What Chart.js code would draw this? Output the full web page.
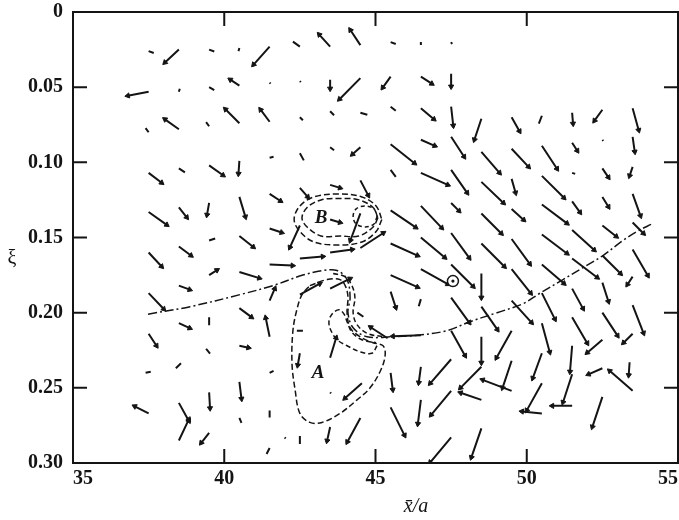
<!DOCTYPE html>
<html>
<head>
<meta charset="utf-8">
<script src="https://cdn.jsdelivr.net/npm/chart.js@4.4.1/dist/chart.umd.min.js"></script>
<style>
  body { margin: 0; background: #fff; }
</style>
</head>
<body>
<canvas id="grafico" width="679" height="520"></canvas>
<script>
// EIXOS
const xTickLabels = ['35', '40', '45', '50', '55'];
const yTickLabels = ['0', '0.05', '0.10', '0.15', '0.20', '0.25', '0.30'];

// VETORES: origem (x/a, xi) e componentes (u em x/a, v em xi), linha a linha
const vecX = [
    37.5, 38.5, 39.5, 40.5, 41.5, 42.5, 43.5, 44.5, 45.5, 46.5, 47.5,
    37.5, 38.5, 39.5, 40.5, 41.5, 42.5, 43.5, 44.5, 45.5, 46.5, 47.5,
    37.5, 38.5, 39.5, 40.5, 41.5, 42.5, 43.5, 44.5, 45.5, 46.5, 47.5, 48.5, 49.5, 50.5, 51.5, 52.5, 53.5,
    37.5, 38.5, 39.5, 40.5, 41.5, 42.5, 43.5, 44.5, 45.5, 46.5, 47.5, 48.5, 49.5, 50.5, 51.5, 52.5, 53.5,
    45.5, 46.5, 47.5, 48.5, 49.5, 50.5, 51.5, 52.5, 53.5,
    37.5, 38.5, 39.5, 40.5, 41.5, 42.5, 43.5, 44.5, 45.5, 46.5, 47.5, 48.5, 49.5, 50.5, 51.5, 52.5, 53.5,
    37.5, 38.5, 39.5, 40.5, 41.5, 42.5, 43.5, 44.5, 45.5, 46.5, 47.5, 48.5, 49.5, 50.5, 51.5, 52.5, 53.5,
    41.5, 42.5, 43.5, 44.5, 51.5, 52.5, 53.5,
    37.5, 38.5, 39.5, 40.5, 41.5, 42.5, 43.5, 45.5, 46.5, 47.5, 48.5, 49.5, 50.5, 51.5, 52.5, 53.5,
    38.5, 39.5, 40.5, 41.5, 42.4, 44.4, 45.5, 46.5, 47.5, 48.5, 49.5, 50.5, 51.5, 52.5, 53.5,
    37.5, 39.4, 40.5, 42.5, 43.5, 45.4, 46.5, 47.5, 48.5, 49.5, 50.5, 52.5, 53.5,
    37.4, 38.4, 39.5, 40.5, 41.5, 43.5, 44.55, 45.5, 46.5, 47.5, 48.5, 49.5, 50.5, 51.5, 52.5, 53.4,
    37.5, 38.5, 38.5, 39.5, 40.5, 41.5, 41.5, 42.0, 42.5, 43.5, 44.5, 45.5, 46.5, 47.5, 48.5, 49.5, 50.5, 50.5, 51.5, 51.5, 52.5, 53.5, 47.5, 48.5
];
const vecXi = [
    0.026, 0.025, 0.025, 0.024, 0.023, 0.023, 0.023, 0.022, 0.020, 0.020, 0.020,
    0.053, 0.053, 0.050, 0.049, 0.047, 0.046, 0.045, 0.044, 0.043, 0.043, 0.041,
    0.080, 0.078, 0.076, 0.074, 0.073, 0.070, 0.066, 0.067, 0.063, 0.064, 0.063, 0.071, 0.070, 0.069, 0.067, 0.065, 0.064,
    0.107, 0.104, 0.102, 0.099, 0.097, 0.094, 0.090, 0.090, 0.088, 0.085, 0.083, 0.093, 0.091, 0.089, 0.087, 0.085, 0.083,
    0.105, 0.107, 0.105, 0.113, 0.111, 0.109, 0.107, 0.104, 0.103,
    0.133, 0.130, 0.127, 0.123, 0.121, 0.117, 0.115, 0.112, 0.132, 0.129, 0.127, 0.134, 0.131, 0.128, 0.126, 0.123, 0.121,
    0.160, 0.156, 0.152, 0.149, 0.144, 0.142, 0.138, 0.134, 0.154, 0.150, 0.147, 0.154, 0.151, 0.148, 0.145, 0.142, 0.140,
    0.168, 0.164, 0.160, 0.157, 0.164, 0.162, 0.158,
    0.187, 0.182, 0.175, 0.173, 0.192, 0.188, 0.184, 0.175, 0.171, 0.168, 0.174, 0.171, 0.168, 0.184, 0.180, 0.176,
    0.207, 0.203, 0.197, 0.216, 0.212, 0.200, 0.186, 0.191, 0.190, 0.196, 0.192, 0.187, 0.203, 0.200, 0.195,
    0.214, 0.224, 0.222, 0.227, 0.230, 0.217, 0.215, 0.212, 0.216, 0.212, 0.207, 0.218, 0.214,
    0.240, 0.237, 0.253, 0.246, 0.240, 0.253, 0.247, 0.240, 0.236, 0.231, 0.236, 0.232, 0.227, 0.222, 0.237, 0.233,
    0.267, 0.260, 0.285, 0.280, 0.270, 0.265, 0.290, 0.283, 0.282, 0.276, 0.270, 0.263, 0.258, 0.252, 0.258, 0.252, 0.247, 0.267, 0.241, 0.262, 0.256, 0.252, 0.283, 0.277
];
const vecU = [
    0.17, -0.46, 0.17, -0.03, -0.53, -0.23, -0.36, -0.33, 0.17, 0, 0.03,
    -0.69, 0.03, 0.17, -0.30, 0.03, 0.03, 0, -0.69, -0.26, 0.36, 0,
    -0.10, -0.46, -0.10, -0.46, -0.30, 0.10, 0.13, 0.23, 0.17, 0.43, 0.07, -0.23, 0.26, -0.10, 0.03, -0.26, 0.20,
    0.43, 0.20, 0.46, -0.03, 0.13, 0.13, 0.13, -0.26, 0.79, 0.46, 0.43, 0.60, 0.56, 0.50, 0.17, 0.03, 0.07,
    0.17, 0.89, 0.53, 0.73, 0.13, 0.73, 0.10, 0.20, -0.10,
    0.60, 0.26, -0.07, 0.20, 0.36, 0.26, 0.33, 0.26, 0.83, 0.69, 0.26, 0.66, 0.40, 0.83, 0.26, 0.20, 0.26,
    0.43, 0.40, 0.20, 0.46, 0.40, -0.33, 0.33, -0.33, 0.89, 0.79, 0.60, 0.76, 0.60, 0.83, 0.73, 0.46, 0.36,
    0.76, 0.76, 0.73, 0.76, 0.83, 0.60, 0.50,
    0.50, 0.36, 0.26, 0.66, 0.17, 0.66, 0.66, 0.89, 0.89, 0.73, 0, 0.63, 0.73, 0.36, 0.20, -0.17,
    0.36, 0, 0.40, -0.13, 0.20, 0.20, 0.17, -0.07, 0.60, 0.53, 0.66, 0.43, 0.50, 0.50, 0.36,
    0.26, 0.13, 0.30, -0.07, 0.20, -0.56, -0.93, 0.46, 0, -0.50, 0.26, -0.50, -0.30,
    0.17, 0.17, 0.03, 0.07, 0.13, 0.03, -0.56, 0.07, -0.07, -0.69, -0.69, -0.30, -0.30, -0.07, -0.46, -0.03,
    -0.46, 0.33, 0.33, -0.26, 0.07, 0, -0.10, 0.03, 0, -0.10, -0.43, 0.46, -0.10, -0.66, -0.69, -0.96, -0.50, -0.66, -0.30, -0.66, -0.33, -0.76, -0.69, -0.33
];
const vecV = [
    0.0013, 0.0086, 0.0013, 0.002, 0.012, -0.0033, -0.008, -0.01, 0.0013, 0.002, 0.0013,
    0.0027, -0.002, 0.002, -0.004, 0.0007, 0.0007, 0.006, 0.014, 0.0073, 0.0047, 0.0086,
    -0.0027, -0.0066, -0.0027, -0.0093, -0.008, 0.002, 0.0027, 0.0013, 0.0027, 0.0073, 0.0126, 0.014, 0.0093, 0.0053, 0.0073, 0.0073, 0.0146,
    0.0066, 0.0027, 0.0066, 0.0086, -0.0007, 0.0047, 0.002, 0.0047, 0.0126, 0.004, 0.0133, 0.014, 0.012, 0.0153, 0.0053, 0.0007, 0.01,
    0.0047, 0.008, 0.0153, 0.014, 0.0093, 0.0146, 0.0007, 0.006, 0.006,
    0.0086, 0.0066, 0.008, 0.0133, 0.0047, 0.006, 0.002, 0.01, 0.0113, 0.0146, 0.0053, 0.0133, 0.0073, 0.0126, 0.0073, 0.0066, 0.0146,
    0.0093, 0.006, -0.0013, 0.0073, 0.0027, 0.0146, 0.002, 0.018, 0.008, 0.0133, 0.0166, 0.0153, 0.0166, 0.0126, 0.0133, 0.0073, 0.0073,
    0.0007, -0.0013, -0.002, -0.01, 0.0126, 0.012, 0.0173,
    0.0106, 0.0027, -0.0033, 0.004, -0.008, -0.0073, -0.0066, 0.008, 0.01, 0.0146, 0.016, 0.016, 0.0126, 0.0133, 0.0126, 0.0053,
    0.0033, 0.0053, 0.006, -0.0126, 0, 0.0027, 0.0106, 0.0047, 0.0166, 0.0153, 0.0146, 0.0173, 0.0173, 0.0153, 0.0186,
    0.008, 0.0033, 0.0013, 0.008, -0.0133, -0.0073, 0.0007, 0.0166, 0.0173, 0.018, 0.0193, 0.0086, 0.006,
    -0.0007, -0.0033, 0.0106, 0.0113, -0.0013, 0.0007, 0.01, 0.0113, 0.0106, 0.016, 0.014, 0.018, 0.0166, 0.0173, 0.004, 0.0086,
    -0.0047, 0.012, -0.014, 0.0066, 0.0033, 0.0047, 0.004, 0.0007, 0.0053, 0.0093, 0.016, 0.0186, 0.016, 0.016, -0.0047, -0.0073, 0.018, -0.0013, 0.0186, 0, 0.02, -0.0133, 0.0166, 0.0193
];

// CURVA TRACO-PONTO
const guideX = [37.48, 38.87, 40.52, 41.61, 42.60, 43.26, 43.73, 44.06, 44.16, 44.09, 44.26, 44.72, 45.55, 46.37, 47.36, 48.12, 49.02, 49.88, 50.44, 51.20, 51.86, 52.52, 53.18, 53.64, 54.14];
const guideXi = [0.201, 0.196, 0.188, 0.182, 0.175, 0.172, 0.172, 0.178, 0.190, 0.200, 0.210, 0.216, 0.216, 0.215, 0.212, 0.206, 0.200, 0.194, 0.187, 0.178, 0.170, 0.162, 0.152, 0.146, 0.141];

// REGIAO A (tracejada)
const loopAX = [42.83, 43.40, 43.83, 44.02, 44.09, 44.06, 44.16, 44.49, 44.92, 45.25, 45.32, 45.18, 44.82, 44.39, 43.83, 43.23, 42.83, 42.50, 42.34, 42.24, 42.27, 42.40, 42.57, 42.83];
const loopAXi = [0.182, 0.178, 0.178, 0.183, 0.190, 0.200, 0.210, 0.216, 0.220, 0.222, 0.228, 0.238, 0.250, 0.258, 0.267, 0.273, 0.273, 0.267, 0.251, 0.234, 0.212, 0.198, 0.188, 0.182];
const spiralX = [45.05, 44.88, 44.49, 44.06, 43.73, 43.53, 43.46, 43.56, 43.79, 43.96, 44.06, 44.22, 44.55, 45.02];
const spiralXi = [0.222, 0.227, 0.226, 0.222, 0.218, 0.212, 0.206, 0.201, 0.198, 0.201, 0.206, 0.213, 0.218, 0.220];
const sideX = [43.60, 43.99, 44.22, 44.32, 44.26, 44.39, 44.75, 45.31];
const sideXi = [0.174, 0.176, 0.182, 0.190, 0.200, 0.208, 0.214, 0.216];

// REGIAO B (tracejadas)
const bOuterX = [45.21, 45.02, 44.55, 43.76, 42.97, 42.50, 42.31, 42.50, 42.97, 43.76, 44.55, 45.02, 45.21];
const bOuterXi = [0.138, 0.146, 0.153, 0.155, 0.153, 0.146, 0.138, 0.129, 0.123, 0.121, 0.123, 0.129, 0.138];
const bInnerX = [45.08, 44.92, 44.45, 43.83, 43.20, 42.74, 42.57, 42.74, 43.20, 43.83, 44.45, 44.92, 45.08];
const bInnerXi = [0.137, 0.143, 0.149, 0.149, 0.149, 0.143, 0.137, 0.130, 0.125, 0.124, 0.125, 0.130, 0.137];
const bSmallX = [45.05, 44.95, 44.66, 44.36, 44.26, 44.36, 44.66, 44.95, 45.05];
const bSmallXi = [0.136, 0.141, 0.143, 0.141, 0.136, 0.131, 0.129, 0.131, 0.136];

// MARCADOR E ROTULOS
const markX = [47.56];
const markXi = [0.179];
const regionText = ['A', 'B'];
const regionX = [43.1, 43.2];
const regionXi = [0.240, 0.137];


const nVec = Math.min(vecX.length, vecXi.length, vecU.length, vecV.length);
const shafts = [];
const heads = [];
for (let i = 0; i < nVec; i++) {
    shafts.push({ x: vecX[i], y: vecXi[i] });
    shafts.push({ x: vecX[i] + vecU[i], y: vecXi[i] + vecV[i] });
    shafts.push({ x: vecX[i], y: null });
    heads.push({ x: vecX[i] + vecU[i], y: vecXi[i] + vecV[i] });
}
const pontos = (xs, ys) => xs.map((v, i) => ({ x: v, y: ys[i] }));

function vecPixels(chart, i) {
    const sx = chart.scales.x;
    const sy = chart.scales.y;
    const dx = sx.getPixelForValue(vecX[i] + vecU[i]) - sx.getPixelForValue(vecX[i]);
    const dy = sy.getPixelForValue(vecXi[i] + vecV[i]) - sy.getPixelForValue(vecXi[i]);
    return { dx, dy };
}

const tinta = '#141414';
const fonteSerif = '"Liberation Serif", "DejaVu Serif", serif';

const curva = (data, dash, width) => ({
    data: data,
    showLine: true,
    borderColor: tinta,
    borderWidth: width,
    borderDash: dash,
    pointRadius: 0,
    tension: 0.35,
    fill: false
});

const molduras = {
    id: 'molduras',
    afterDatasetsDraw(chart) {
        const { ctx, chartArea: a, scales: { x, y } } = chart;
        ctx.save();
        ctx.strokeStyle = tinta;
        ctx.lineWidth = 2;
        ctx.strokeRect(a.left, a.top, a.right - a.left, a.bottom - a.top);
        ctx.beginPath();
        x.ticks.forEach(t => {
            const px = x.getPixelForValue(t.value);
            ctx.moveTo(px, a.bottom); ctx.lineTo(px, a.bottom - 14);
            ctx.moveTo(px, a.top); ctx.lineTo(px, a.top + 14);
        });
        y.ticks.forEach(t => {
            const py = y.getPixelForValue(t.value);
            ctx.moveTo(a.left, py); ctx.lineTo(a.left + 14, py);
            ctx.moveTo(a.right, py); ctx.lineTo(a.right - 14, py);
        });
        ctx.stroke();

        ctx.fillStyle = tinta;
        ctx.textAlign = 'center';
        ctx.textBaseline = 'middle';
        ctx.font = 'italic bold 19px ' + fonteSerif;
        regionText.forEach((txt, i) => {
            ctx.fillText(txt, x.getPixelForValue(regionX[i]), y.getPixelForValue(regionXi[i]));
        });

        ctx.font = 'italic 20px ' + fonteSerif;
        ctx.fillText('x\u0304/a', 416, 507);
        ctx.font = '20px ' + fonteSerif;
        ctx.fillText('\u03BE', 12, 259);
        ctx.restore();
    }
};

const campo = document.getElementById('grafico');

const campo_config = {
    type: 'line',
    data: {
        datasets: [
            {
                data: pontos(markX, markXi),
                showLine: false,
                pointRadius: 1.6,
                pointBackgroundColor: tinta,
                pointBorderWidth: 0
            },
            {
                data: pontos(markX, markXi),
                showLine: false,
                pointRadius: 5.5,
                pointBackgroundColor: '#fff',
                pointBorderColor: tinta,
                pointBorderWidth: 1.5
            },
            {
                data: heads,
                showLine: false,
                pointStyle: 'triangle',
                pointBackgroundColor: tinta,
                pointBorderColor: tinta,
                pointBorderWidth: 1,
                pointRadius: ctx => {
                    const p = vecPixels(ctx.chart, ctx.dataIndex);
                    const len = Math.hypot(p.dx, p.dy);
                    return len < 9 ? 0 : 3;
                },
                pointRotation: ctx => {
                    const p = vecPixels(ctx.chart, ctx.dataIndex);
                    return Math.atan2(p.dx, -p.dy) * 180 / Math.PI;
                }
            },
            {
                data: shafts,
                showLine: true,
                spanGaps: false,
                borderColor: tinta,
                borderWidth: 2,
                pointRadius: 0,
                tension: 0
            },
            curva(pontos(guideX, guideXi), [9, 3, 2, 3], 1.5),
            curva(pontos(loopAX, loopAXi), [6, 3], 1.5),
            curva(pontos(spiralX, spiralXi), [5, 3], 1.5),
            curva(pontos(sideX, sideXi), [5, 3], 1.5),
            curva(pontos(bOuterX, bOuterXi), [6, 3], 1.5),
            curva(pontos(bInnerX, bInnerXi), [6, 3], 1.5),
            curva(pontos(bSmallX, bSmallXi), [4, 3], 1.5)
        ]
    },
    options: {
        responsive: false,
        devicePixelRatio: 1,
        animation: false,
        layout: {
            autoPadding: false,
            padding: { top: 12, right: 1, left: 0, bottom: 0 }
        },
        plugins: {
            legend: { display: false },
            tooltip: { enabled: false }
        },
        scales: {
            x: {
                type: 'linear',
                min: 35,
                max: 55,
                grid: { display: false, drawTicks: false },
                border: { display: false },
                ticks: {
                    stepSize: 5,
                    padding: 4,
                    align: 'inner',
                    color: tinta,
                    maxRotation: 0,
                    font: { family: fonteSerif, size: 20, weight: 'bold' },
                    callback: v => xTickLabels[Math.round((v - 35) / 5)]
                },
                afterFit: s => { s.height = 57; s.paddingLeft = 0; s.paddingRight = 0; }
            },
            y: {
                type: 'linear',
                reverse: true,
                min: 0,
                max: 0.3,
                grid: { display: false, drawTicks: false },
                border: { display: false },
                ticks: {
                    stepSize: 0.05,
                    padding: 10,
                    color: tinta,
                    font: { family: fonteSerif, size: 20, weight: 'bold' },
                    callback: v => yTickLabels[Math.round(v / 0.05)]
                },
                afterFit: s => { s.width = 73; s.paddingTop = 0; s.paddingBottom = 0; }
            }
        }
    },
    plugins: [molduras]
};

const grafico_campo = new Chart(campo, campo_config);
</script>
</body>
</html>
